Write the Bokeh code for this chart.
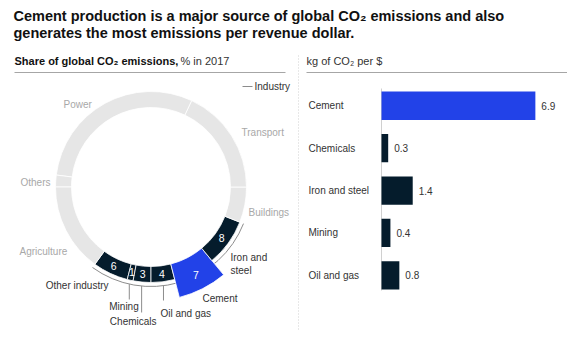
import math
import numpy as np
from bokeh.plotting import figure
from bokeh.models import Range1d, ColumnDataSource
from bokeh.layouts import column, row
from bokeh.embed import file_html
from bokeh.resources import INLINE
from bokeh.core.properties import value

# ---------------- data ----------------
title_lines = [
    "Cement production is a major source of global CO\u2082 emissions and also",
    "generates the most emissions per revenue dollar.",
]
segments = ["Other industry", "Mining", "Chemicals", "Oil and gas", "Cement",
            "Iron and steel", "Buildings", "Transport", "Power", "Others", "Agriculture"]
shares = [6, 1, 3, 4, 7, 8, 6, 18, 30, 2, 15]
industry = ["Other industry", "Mining", "Chemicals", "Oil and gas", "Cement", "Iron and steel"]

bar_categories = ["Cement", "Chemicals", "Iron and steel", "Mining", "Oil and gas"]
bar_values = [6.9, 0.3, 1.4, 0.4, 0.8]

# ---------------- style ----------------
FONT = "Liberation Sans"
NAVY = "#051C2C"
BLUE = "#2242E8"
RING_GRAY = "#E6E6E6"
LABEL_GRAY = "#A8A8A8"
TEXT = "#333333"
RULE = "#A6A6A6"

W, H = 559, 342
TITLE_H = 44
LEFT_W = 289
RIGHT_W = W - LEFT_W
BODY_H = H - TITLE_H


def make_fig(w, h, xr, yr, **kw):
    p = figure(width=w, height=h, x_range=xr, y_range=yr, output_backend="svg",
               toolbar_location=None, x_axis_location=None, y_axis_location=None,
               min_border=0, **kw)
    p.grid.visible = False
    p.outline_line_color = None
    p.background_fill_color = "white"
    p.border_fill_color = "white"
    return p


# ---------------- title ----------------
tp = make_fig(W, TITLE_H, Range1d(0, W), Range1d(TITLE_H, 0))
tp.text(x=[5, 5], y=[7, 24.5], text=title_lines, text_font=value(FONT),
        text_font_style="bold", text_font_size="14.5px", text_color="#111111",
        text_baseline="middle", text_align="left")

# ---------------- donut ----------------
lp = make_fig(LEFT_W, BODY_H, Range1d(0, LEFT_W), Range1d(0, BODY_H))


def PX(page_x):
    return page_x - 8


def PY(page_y):
    return BODY_H - (page_y - 52)


cx, cy = PX(150.5), PY(186.5)
R_IN, R_OUT, R_CEM = 79.5, 95.5, 114

total = float(sum(shares))
cum = np.concatenate([[0], np.cumsum(shares)])
k = segments.index("Oil and gas")
rot = -math.pi / 2 - 2 * math.pi * cum[k] / total
starts = rot + 2 * math.pi * cum[:-1] / total
ends = rot + 2 * math.pi * cum[1:] / total
mids = (starts + ends) / 2

colors = []
outer = []
for s in segments:
    if s == "Cement":
        colors.append(BLUE)
        outer.append(R_CEM)
    elif s in industry:
        colors.append(NAVY)
        outer.append(R_OUT)
    else:
        colors.append(RING_GRAY)
        outer.append(R_OUT)

src = ColumnDataSource(dict(start=starts, end=ends, color=colors, outer=outer))

# subtitle + rule
lp.text(x=[PX(14)], y=[PY(60)], text=["Share of global CO\u2082 emissions,"],
        text_font=value(FONT), text_font_style="bold", text_font_size="11px",
        text_color="#111111", text_baseline="middle")
lp.text(x=[PX(180)], y=[PY(60)], text=["% in 2017"],
        text_font=value(FONT), text_font_size="11px",
        text_color=TEXT, text_baseline="middle")
lp.segment(x0=[PX(14)], y0=[PY(72)], x1=[PX(285)], y1=[PY(72)], line_color=RULE, line_width=1)

# industry bracket arc
i_first = segments.index(industry[0])
i_last = segments.index(industry[-1])
lp.arc(x=cx, y=cy, radius=99.5, start_angle=starts[i_first], end_angle=ends[i_last],
       line_color="#8C8C8C", line_width=1)

lp.annular_wedge(x=cx, y=cy, inner_radius=R_IN, outer_radius="outer",
                 start_angle="start", end_angle="end", fill_color="color",
                 line_color="white", line_width=0.8, source=src)

# numbers inside industry segments
nx, ny, nt = [], [], []
for s in industry:
    i = segments.index(s)
    r = 99 if s == "Cement" else 87.5
    nx.append(cx + r * math.cos(mids[i]))
    ny.append(cy + r * math.sin(mids[i]))
    nt.append(str(shares[i]))
lp.text(x=nx, y=ny, text=nt, text_font=value(FONT), text_font_size="10.5px",
        text_color="white", text_align="center", text_baseline="middle")

# leader lines
leader_end = {"Mining": 299, "Chemicals": 312, "Oil and gas": 300}
lx0, ly0, lx1, ly1 = [], [], [], []
for s, pe in leader_end.items():
    i = segments.index(s)
    x = cx + 99.5 * math.cos(mids[i])
    y = cy + 99.5 * math.sin(mids[i])
    lx0.append(x); ly0.append(y); lx1.append(x); ly1.append(PY(pe))
lp.segment(x0=lx0, y0=ly0, x1=lx1, y1=ly1, line_color="#8C8C8C", line_width=1)

# gray sector labels
gray_labels = [("Power", 63, 104), ("Transport", 241, 131.7), ("Others", 20, 181.7),
               ("Buildings", 248, 211.7), ("Agriculture", 19, 250.7)]
lp.text(x=[PX(a[1]) for a in gray_labels], y=[PY(a[2]) for a in gray_labels],
        text=[a[0] for a in gray_labels], text_font=value(FONT), text_font_size="10px",
        text_color=LABEL_GRAY, text_baseline="middle", text_align="left")

# industry labels
def dlabel(t, x, y, align):
    lp.text(x=[PX(x)], y=[PY(y)], text=[t], text_font=value(FONT), text_font_size="10px",
            text_color=TEXT, text_baseline="middle", text_align=align)

dlabel("Other industry", 108, 285, "right")
dlabel("Mining", 123.5, 306, "center")
dlabel("Chemicals", 132.7, 320.7, "center")
dlabel("Oil and gas", 160, 312.7, "left")
dlabel("Cement", 202, 298, "left")
dlabel("Iron and", 230, 257, "left")
dlabel("steel", 230, 270, "left")

# legend "— Industry"
lp.segment(x0=[PX(242)], y0=[PY(86)], x1=[PX(252)], y1=[PY(86)], line_color="#8C8C8C", line_width=1)
dlabel("Industry", 254, 86, "left")

# ---------------- bars ----------------
PXU = 22.3          # pixels per kg/$
AXIS_X = 84         # baseline position inside the panel
ROW0 = 53.25        # first row centre inside the panel
ROW_STEP = 42.4     # pixels between rows
bp = make_fig(RIGHT_W, BODY_H,
              Range1d(-AXIS_X / PXU, (RIGHT_W - AXIS_X) / PXU),
              Range1d((BODY_H - ROW0) / ROW_STEP, -ROW0 / ROW_STEP))
bp.extra_x_ranges = {"px": Range1d(0, RIGHT_W)}
bp.extra_y_ranges = {"px": Range1d(BODY_H, 0)}

# dotted separator
bp.segment(x0=[1], y0=[3], x1=[1], y1=[278], line_color="#D0D0D0", line_width=1,
           line_dash="1 2", x_range_name="px", y_range_name="px")
# subtitle + rule
bp.text(x=[9], y=[8], text=["kg of CO\u2082 per $"], text_font=value(FONT),
        text_font_size="11px", text_color=TEXT, text_baseline="middle",
        x_range_name="px", y_range_name="px")
bp.segment(x0=[9], y0=[20], x1=[RIGHT_W], y1=[20], line_color=RULE, line_width=1,
           x_range_name="px", y_range_name="px")
# baseline
bp.segment(x0=[0], y0=[36], x1=[0], y1=[238], line_color="#D0D0D0", line_width=1,
           y_range_name="px")

rows = list(range(len(bar_categories)))
bar_colors = [BLUE if c == "Cement" else NAVY for c in bar_categories]
bsrc = ColumnDataSource(dict(row=rows, cat=bar_categories, val=bar_values, color=bar_colors,
                             lab=[f"{v:.1f}" for v in bar_values]))
bp.hbar(y="row", left=0, right="val", height=0.667, fill_color="color",
        line_color=None, source=bsrc)
bp.text(x="val", y="row", text="lab", x_offset=6, text_font=value(FONT),
        text_font_size="10px", text_color=TEXT, text_baseline="middle", source=bsrc)
bp.text(x=[11] * len(bar_categories), y=rows, text=bar_categories,
        text_font=value(FONT), text_font_size="10px", text_color=TEXT,
        text_baseline="middle", x_range_name="px")

layout = column(tp, row(lp, bp), margin=(8, 0, 0, 8))
open("out.html", "w").write(file_html(layout, INLINE))
